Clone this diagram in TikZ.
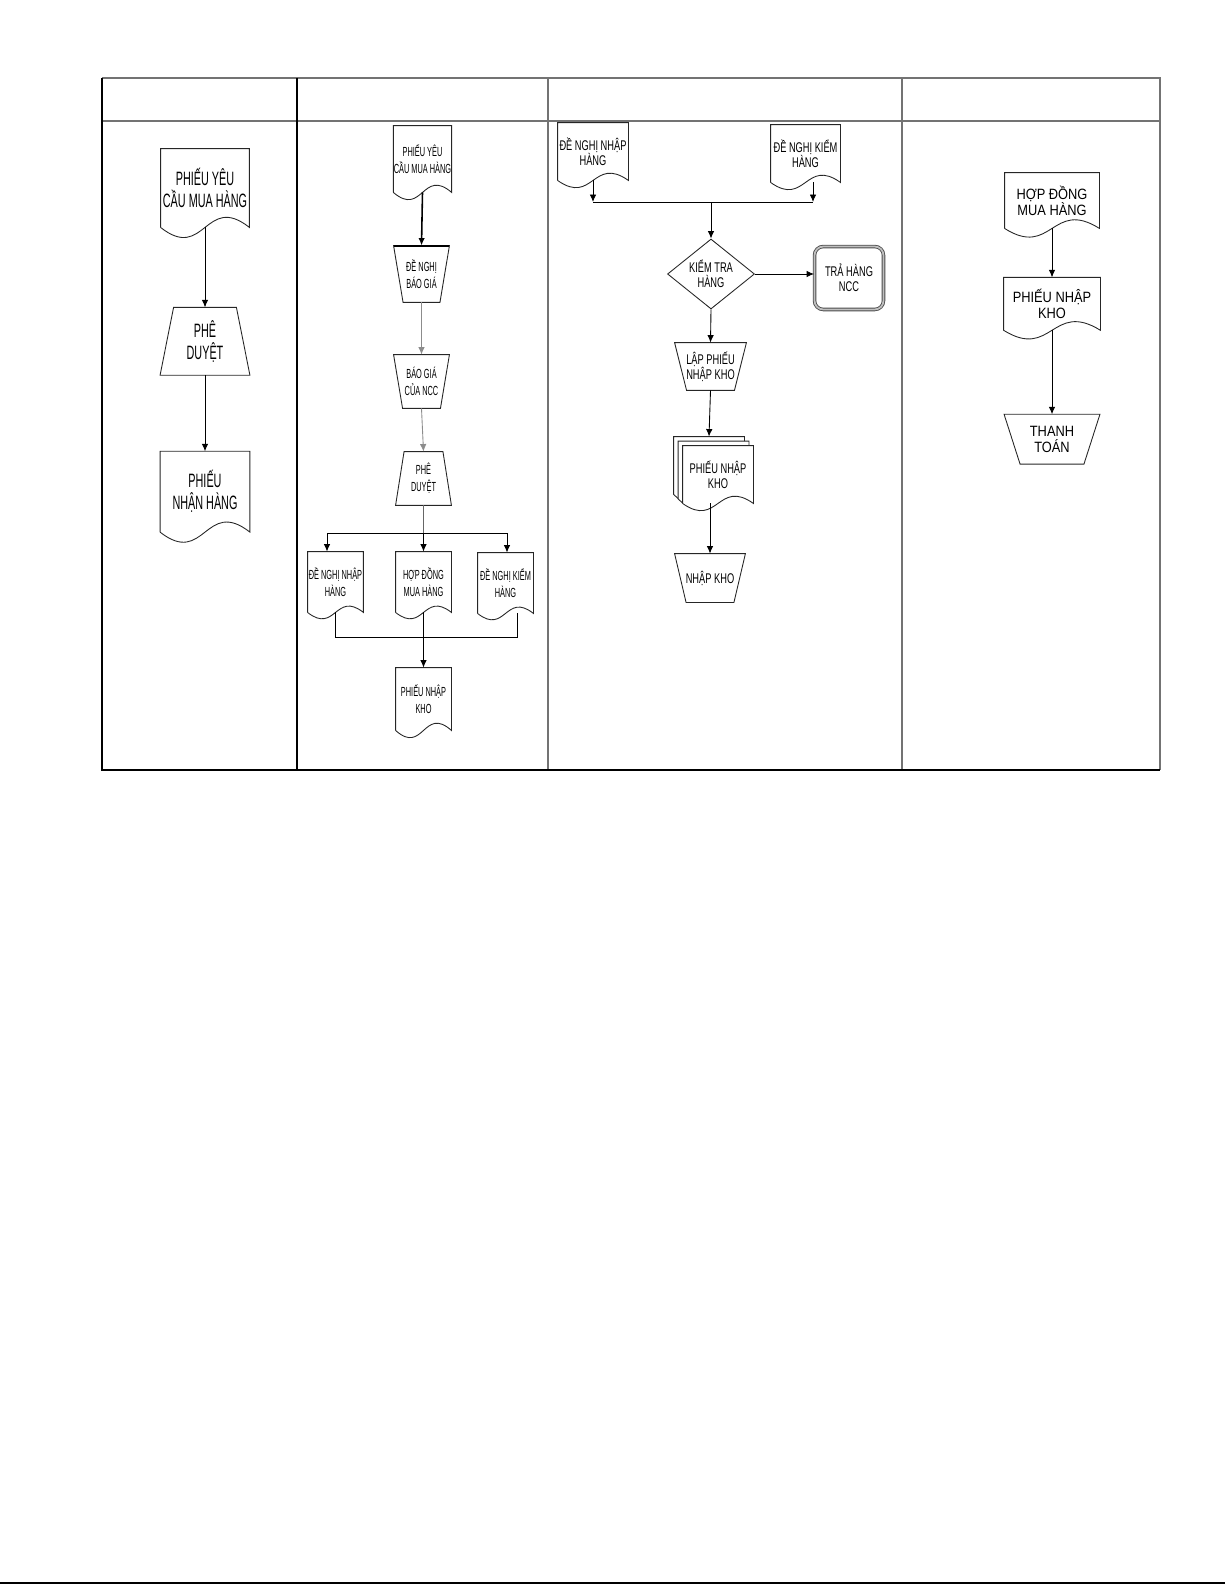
\documentclass[tikz,border=0pt]{standalone}
\usepackage{fontspec}
\setmainfont{Liberation Sans}
\newfontfamily\slimfont{Liberation Sans}[FakeStretch=0.56]
\newfontfamily\condfont{Liberation Sans}[FakeStretch=0.66]
\newfontfamily\softfont{Liberation Sans}[FakeStretch=0.86]
\usepackage{tikz}
\usetikzlibrary{arrows.meta,calc,shapes.geometric,positioning}
\tikzset{
    docline/.style={draw=black!85, line width=0.5pt},
    doc/.style={inner sep=0pt, align=center,
            append after command={%
                    \pgfextra
                        \draw[docline] (\tikzlastnode.south west) --
                           (\tikzlastnode.north west) --
                           (\tikzlastnode.north east) --
                           (\tikzlastnode.south east)
                           .. controls ($(\tikzlastnode.south)+(0,-#1)$) and ($(\tikzlastnode.south)+(0,#1)$) ..
                           (\tikzlastnode.south west);
                    \endpgfextra}},
    doc/.default=30,
    manop/.style={inner sep=0pt, align=center,
            append after command={%
                    \pgfextra
                        \draw[docline] (\tikzlastnode.north west) --
                           (\tikzlastnode.north east) --
                           ($(\tikzlastnode.south east)+(-#1,0)$) --
                           ($(\tikzlastnode.south west)+(#1,0)$) -- cycle;
                    \endpgfextra}},
    approve/.style={inner sep=0pt, align=center,
            append after command={%
                    \pgfextra
                        \draw[docline] ($(\tikzlastnode.north west)+(#1,0)$) --
                           ($(\tikzlastnode.north east)+(-#1,0)$) --
                           (\tikzlastnode.south east) --
                           (\tikzlastnode.south west) -- cycle;
                    \endpgfextra}},
    laneA/.style={font=\slimfont\fontsize{11pt}{12.5pt}\selectfont},
    laneB/.style={font=\slimfont\fontsize{7.5pt}{9.6pt}\selectfont},
    laneC/.style={font=\condfont\fontsize{8pt}{8.6pt}\selectfont},
    laneD/.style={font=\softfont\fontsize{8.5pt}{9pt}\selectfont},
}

\begin{document}
\begin{tikzpicture}[x=0.02cm, y=-0.02cm, >={Latex[length=1.5mm,width=1.3mm]}, line width=0.5pt]
\useasboundingbox (0,0) rectangle (1225,1585);
% table
\draw[black!55, line width=0.6pt] (102,78) -- (1160,78) -- (1160,770);
\draw[black!55, line width=0.6pt] (102,121) -- (1160,121);
\foreach \cx in {548,902}
    \draw[black!55, line width=0.6pt] (\cx,78) -- (\cx,770);
\draw[line width=0.8pt] (102,78) -- (102,770) -- (1160,770);
\draw[line width=0.8pt] (297,78) -- (297,770);
\draw[line width=1pt] (0,1583) -- (1225,1583);

% lane 1
\node[doc=35, laneA, minimum width=1.76cm, minimum height=1.56cm] (c1req) at (205,188) {PHIẾU YÊU\\CẦU MUA HÀNG};
\node[approve=13.5, laneA, minimum width=1.78cm, minimum height=1.34cm, below=1.6cm of c1req] (c1ok) {PHÊ\\DUYỆT};
\node[doc=35, laneA, minimum width=1.78cm, minimum height=1.6cm, below=1.52cm of c1ok] (c1rcv) {PHIẾU\\NHẬN HÀNG};
\draw[->] (c1req.south) -- (c1ok.north);
\draw[->] (c1ok.south) -- (c1rcv.north);

% lane 2
\node[doc=25, laneB, minimum width=1.1cm, minimum height=1.32cm] (c2req) at (422.5,159) {PHIẾU YÊU\\CẦU MUA HÀNG};
\node[manop=9.5, laneB, minimum width=1.1cm, minimum height=1.12cm] (c2ask) at (421.5,274) {ĐỀ NGHỊ\\BÁO GIÁ};
\node[manop=9, laneB, minimum width=1.1cm, minimum height=1.06cm] (c2quote) at (421.5,381.5) {BÁO GIÁ\\CỦA NCC};
\node[approve=8.5, laneB, minimum width=1.1cm, minimum height=1.06cm] (c2ok) at (423.5,478.5) {PHÊ\\DUYỆT};
\node[doc=22, laneB, minimum width=1.1cm, minimum height=1.2cm] (c2in) at (335.5,582) {ĐỀ NGHỊ NHẬP\\HÀNG};
\node[doc=22, laneB, minimum width=1.1cm, minimum height=1.2cm] (c2ct) at (423.5,582) {HỢP ĐỒNG\\MUA HÀNG};
\node[doc=22, laneB, minimum width=1.1cm, minimum height=1.2cm] (c2chk) at (505.5,583) {ĐỀ NGHỊ KIỂM\\HÀNG};
\node[doc=25, laneB, minimum width=1.1cm, minimum height=1.24cm] (c2wh) at (423.5,699) {PHIẾU NHẬP\\KHO};
\draw[line width=1.2pt] (c2ask.north west) -- (c2ask.north east);
\draw[->, line width=0.9pt] (c2req.south) -- (c2ask.north);
\draw[->, black!45] (c2ask.south) -- (c2quote.north);
\draw[->, black!45] (c2quote.south) -- (c2ok.north);
\coordinate (c2fork) at (423.5,533);
\draw[black!60] (c2ok.south) -- (c2fork);
\draw[->] (c2fork) -- (c2ct.north);
\draw[->] (c2fork) -| ([xshift=-0.17cm]c2in.north);
\draw[->] (c2fork) -| ([xshift=0.03cm]c2chk.north);
\draw (c2in.south) -- ++(0,25) -| ([xshift=0.23cm]c2chk.south);
\draw[->] (c2ct.south) -- (c2wh.north);

% lane 3
\node[doc=25, laneC, minimum width=1.4cm, minimum height=1.14cm] (c3in) at (593,151.5) {ĐỀ NGHỊ NHẬP\\HÀNG};
\node[doc=25, laneC, minimum width=1.38cm, minimum height=1.14cm] (c3chk) at (805.5,153.5) {ĐỀ NGHỊ KIỂM\\HÀNG};
\node[diamond, docline, laneC, align=center, inner sep=0pt, aspect=1.3, minimum width=1.74cm, minimum height=1.4cm] (c3test) at (711,274) {KIỂM TRA\\HÀNG};
\node[laneC, align=center, rounded corners=5pt, draw=black!70, double=black!25, double distance=1pt, minimum width=1.38cm, minimum height=1.26cm] (c3ret) at (849,278) {TRẢ HÀNG\\NCC};
\node[manop=12, laneC, minimum width=1.42cm, minimum height=0.94cm] (c3form) at (710.5,366.5) {LẬP PHIẾU\\NHẬP KHO};
\node[doc=25, laneC, minimum width=1.4cm, minimum height=1.14cm] (c3slip) at (718,474.5) {PHIẾU NHẬP\\KHO};
\node[manop=11.5, laneC, minimum width=1.4cm, minimum height=0.96cm] (c3store) at (710,578) {NHẬP KHO};
\foreach \o in {9,4.5}
    \draw[docline] ([shift={(-\o+4.5,-\o+4)}]c3slip.south west) --
        ([shift={(-\o,-\o)}]c3slip.south west) --
        ([shift={(-\o,-\o)}]c3slip.north west) --
        ([shift={(-\o,-\o)}]c3slip.north east) --
        ([shift={(-\o,-\o+4.5)}]c3slip.north east);
\coordinate (c3fork) at (711,202);
\coordinate (c3right) at ([xshift=0.15cm]c3chk.south);
\coordinate (c3back) at ([shift={(-9,-9)}]c3slip.north);
\draw[->] (c3in.south) -- (c3in.south |- c3fork);
\draw[->] (c3right) -- (c3right |- c3fork);
\draw (c3in.south |- c3fork) -- (c3right |- c3fork);
\draw[->] (c3fork) -- (c3test.north);
\draw[->] (c3test.east) -- (c3test.east -| c3ret.west);
\draw[->] (c3test.south) -- (c3form.north);
\draw[->] (c3form.south) -- (c3back);
\draw[->] (c3slip.south -| c3store.north) -- (c3store.north);

% lane 4
\node[doc=30, laneD, minimum width=1.88cm, minimum height=1.1cm] (c4ct) at (1052,200.5) {HỢP ĐỒNG\\MUA HÀNG};
\node[doc=30, laneD, minimum width=1.92cm, minimum height=1.04cm, below=0.98cm of c4ct] (c4wh) {PHIẾU NHẬP\\KHO};
\node[manop=16, laneD, minimum width=1.9cm, minimum height=0.98cm, below=1.68cm of c4wh] (c4pay) {THANH\\TOÁN};
\draw[->] (c4ct.south) -- (c4wh.north);
\draw[->] (c4wh.south) -- (c4pay.north);
\end{tikzpicture}
\end{document}
